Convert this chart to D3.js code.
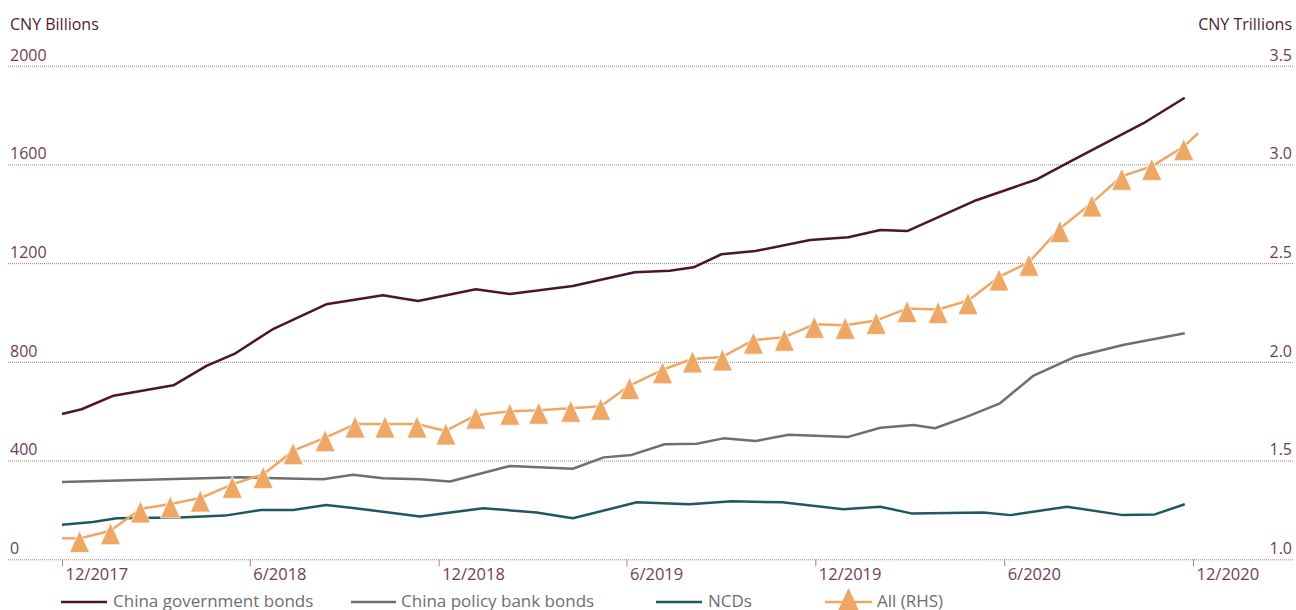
<!DOCTYPE html>
<html><head><meta charset="utf-8">
<script src="https://cdn.jsdelivr.net/npm/d3@7"></script>
<style>
html,body{margin:0;padding:0;background:#fff;}
svg{display:block;font-family:"Open Sans",sans-serif;}
</style></head><body>
<svg id="chart" width="1296" height="610"></svg>
<script>
// ---------- DATA ----------
const xTickDates = ["2017-12-01","2018-06-01","2018-12-01","2019-06-01","2019-12-01","2020-06-01","2020-12-01"];
const xTickLabels = ["12/2017","6/2018","12/2018","6/2019","12/2019","6/2020","12/2020"];
const leftTicks = [0,400,800,1200,1600,2000];
const rightTicks = [1.0,1.5,2.0,2.5,3.0,3.5];

const govDates = ["2017-12-01","2017-12-20","2018-01-20","2018-03-19","2018-04-20","2018-05-17","2018-06-24","2018-08-14","2018-10-08","2018-11-11","2019-01-06","2019-02-08","2019-04-10","2019-06-09","2019-07-13","2019-08-05","2019-09-01","2019-10-04","2019-11-26","2020-01-02","2020-02-02","2020-02-28","2020-05-05","2020-07-03","2020-08-07","2020-10-14","2020-11-23"];
const govValues = [589,608,663,705,784,832,934,1033,1070,1047,1094,1075,1107,1163,1169,1183,1236,1249,1294,1305,1334,1330,1455,1540,1618,1767,1870];

const policyDates = ["2017-12-01","2018-05-23","2018-08-11","2018-09-09","2018-10-08","2018-11-13","2018-12-12","2019-02-08","2019-04-10","2019-05-10","2019-06-06","2019-07-08","2019-08-08","2019-09-03","2019-10-04","2019-11-05","2020-01-02","2020-02-02","2020-03-05","2020-03-26","2020-04-26","2020-05-28","2020-06-29","2020-08-09","2020-09-24","2020-11-23"];
const policyValues = [313,332,324,343,328,324,315,378,367,413,423,466,468,490,479,505,496,533,544,531,578,632,743,821,868,916];

const ncdDates = ["2017-12-01","2017-12-31","2018-01-23","2018-03-25","2018-05-08","2018-06-12","2018-07-13","2018-08-14","2018-09-09","2018-10-08","2018-11-13","2019-01-13","2019-03-06","2019-04-10","2019-06-11","2019-08-01","2019-09-11","2019-10-30","2019-12-28","2020-02-02","2020-03-03","2020-05-12","2020-06-07","2020-08-01","2020-09-24","2020-10-25","2020-11-23"];
const ncdValues = [140,151,166,169,177,200,200,220,208,193,173,207,190,166,231,223,235,231,203,213,186,190,179,213,179,182,223];

// All (RHS), CNY trillions: first and last entries are line ends without a marker
const allDates = ["2017-12-01","2017-12-18","2018-01-17","2018-02-15","2018-03-16","2018-04-14","2018-05-15","2018-06-14","2018-07-13","2018-08-13","2018-09-11","2018-10-10","2018-11-10","2018-12-08","2019-01-06","2019-02-08","2019-03-08","2019-04-08","2019-05-07","2019-06-04","2019-07-06","2019-08-04","2019-09-02","2019-10-02","2019-11-01","2019-11-30","2019-12-30","2020-01-29","2020-02-28","2020-03-29","2020-04-27","2020-05-27","2020-06-25","2020-07-25","2020-08-25","2020-09-23","2020-10-22","2020-11-22","2020-12-06"];
const allValues = [1.106,1.105,1.145,1.255,1.28,1.31,1.38,1.43,1.55,1.615,1.685,1.685,1.685,1.65,1.73,1.75,1.755,1.765,1.775,1.88,1.96,2.015,2.025,2.11,2.125,2.19,2.185,2.21,2.27,2.265,2.31,2.43,2.505,2.675,2.805,2.94,2.99,3.09,3.158];

const seriesNames = ["China government bonds","China policy bank bonds","NCDs","All (RHS)"];
const seriesColors = ["#4b1432","#6e6f72","#22575f","#efa765"];

// ---------- CHART ----------
const parse = d3.utcParse("%Y-%m-%d");
const svg = d3.select("#chart");
const gridLeft = 8, gridRight = 1294, plotTop = 65.7, plotBottom = 559.3;

const x = d3.scaleUtc().domain([parse(xTickDates[0]), parse(xTickDates[xTickDates.length-1])]).range([62,1193]);
const yL = d3.scaleLinear().domain([0,2000]).range([plotBottom, plotTop]);
const yR = d3.scaleLinear().domain([1,3.5]).range([plotBottom, plotTop]);

const tickColor = "#6f3d55", titleColor = "#4f1c37", gridColor = "#a38979";

// left axis + gridlines
const gL = svg.append("g").attr("transform",`translate(${gridLeft},0)`)
  .call(d3.axisLeft(yL).tickValues(leftTicks).tickFormat(d3.format("d")).tickSize(-(gridRight-gridLeft)));
gL.select(".domain").remove();
gL.selectAll(".tick line").attr("stroke",gridColor).attr("stroke-dasharray","1,1").attr("stroke-width",1);
gL.selectAll(".tick text").attr("x",2).attr("dy",-5.7).attr("text-anchor","start")
  .attr("fill",tickColor).style("font-size","16px").style("font-family","'Open Sans',sans-serif");

// right axis labels
const gR = svg.append("g").attr("transform",`translate(1292,0)`)
  .call(d3.axisRight(yR).tickValues(rightTicks).tickFormat(d3.format(".1f")).tickSize(0));
gR.select(".domain").remove();
gR.selectAll(".tick text").attr("x",0).attr("dy",-5.7).attr("text-anchor","end")
  .attr("fill",tickColor).style("font-size","16px").style("font-family","'Open Sans',sans-serif");

// bottom axis
const gB = svg.append("g").attr("transform",`translate(0,${plotBottom})`)
  .call(d3.axisBottom(x).tickValues(xTickDates.map(parse)).tickFormat((d,i)=>xTickLabels[i]).tickSize(7));
gB.select(".domain").remove();
gB.selectAll(".tick line").attr("stroke",gridColor).attr("stroke-width",1);
gB.selectAll(".tick text").attr("x",3).attr("y",20.5).attr("dy",0).attr("text-anchor","start")
  .attr("fill",tickColor).style("font-size","16.5px").style("font-family","'Open Sans',sans-serif");

// axis titles
svg.append("text").attr("x",10).attr("y",30).attr("fill",titleColor).style("font-size","16px").text("CNY Billions");
svg.append("text").attr("x",1292).attr("y",30).attr("text-anchor","end").attr("fill",titleColor).style("font-size","16px").text("CNY Trillions");

// lines
const mk = (ds, vs) => ds.map((d,i)=>({date:parse(d), v:vs[i]}));
const lineL = d3.line().x(d=>x(d.date)).y(d=>yL(d.v));
const lineR = d3.line().x(d=>x(d.date)).y(d=>yR(d.v));
const plot = svg.append("g");
[[govDates,govValues],[policyDates,policyValues],[ncdDates,ncdValues]].forEach(([ds,vs],i)=>{
  plot.append("path").datum(mk(ds,vs)).attr("d",lineL).attr("fill","none")
    .attr("stroke",seriesColors[i]).attr("stroke-width",2.5).attr("stroke-linejoin","round");
});
const allData = mk(allDates, allValues);
plot.append("path").datum(allData).attr("d",lineR).attr("fill","none")
  .attr("stroke",seriesColors[3]).attr("stroke-width",2.5).attr("stroke-linejoin","round");
const tri = "M0,-8L10,14L-10,14Z";
plot.selectAll(".mk").data(allData.slice(1,-1)).enter().append("path").attr("class","mk")
  .attr("d",tri).attr("transform",d=>`translate(${x(d.date)},${yR(d.v)})`)
  .attr("fill",seriesColors[3]).attr("stroke","#fff").attr("stroke-width",0.7);

// legend
const legendItems = [
  {lx1:61, lx2:107, tx:113},
  {lx1:351, lx2:396, tx:401},
  {lx1:656, lx2:702, tx:708},
  {lx1:825, lx2:872, tx:877}
];
const ly = 602;
const lg = svg.append("g");
legendItems.forEach((it,i)=>{
  lg.append("line").attr("x1",it.lx1).attr("x2",it.lx2).attr("y1",ly).attr("y2",ly)
    .attr("stroke",seriesColors[i]).attr("stroke-width",2.5);
  if(i===3){
    lg.append("path").attr("d","M0,-14L12,12L-12,12Z").attr("transform",`translate(${(it.lx1+it.lx2)/2},${ly})`)
      .attr("fill",seriesColors[3]);
  }
  lg.append("text").attr("x",it.tx).attr("y",606.5).attr("fill","#6d6e71").style("font-size","17px").text(seriesNames[i]);
});
</script>
</body></html>
